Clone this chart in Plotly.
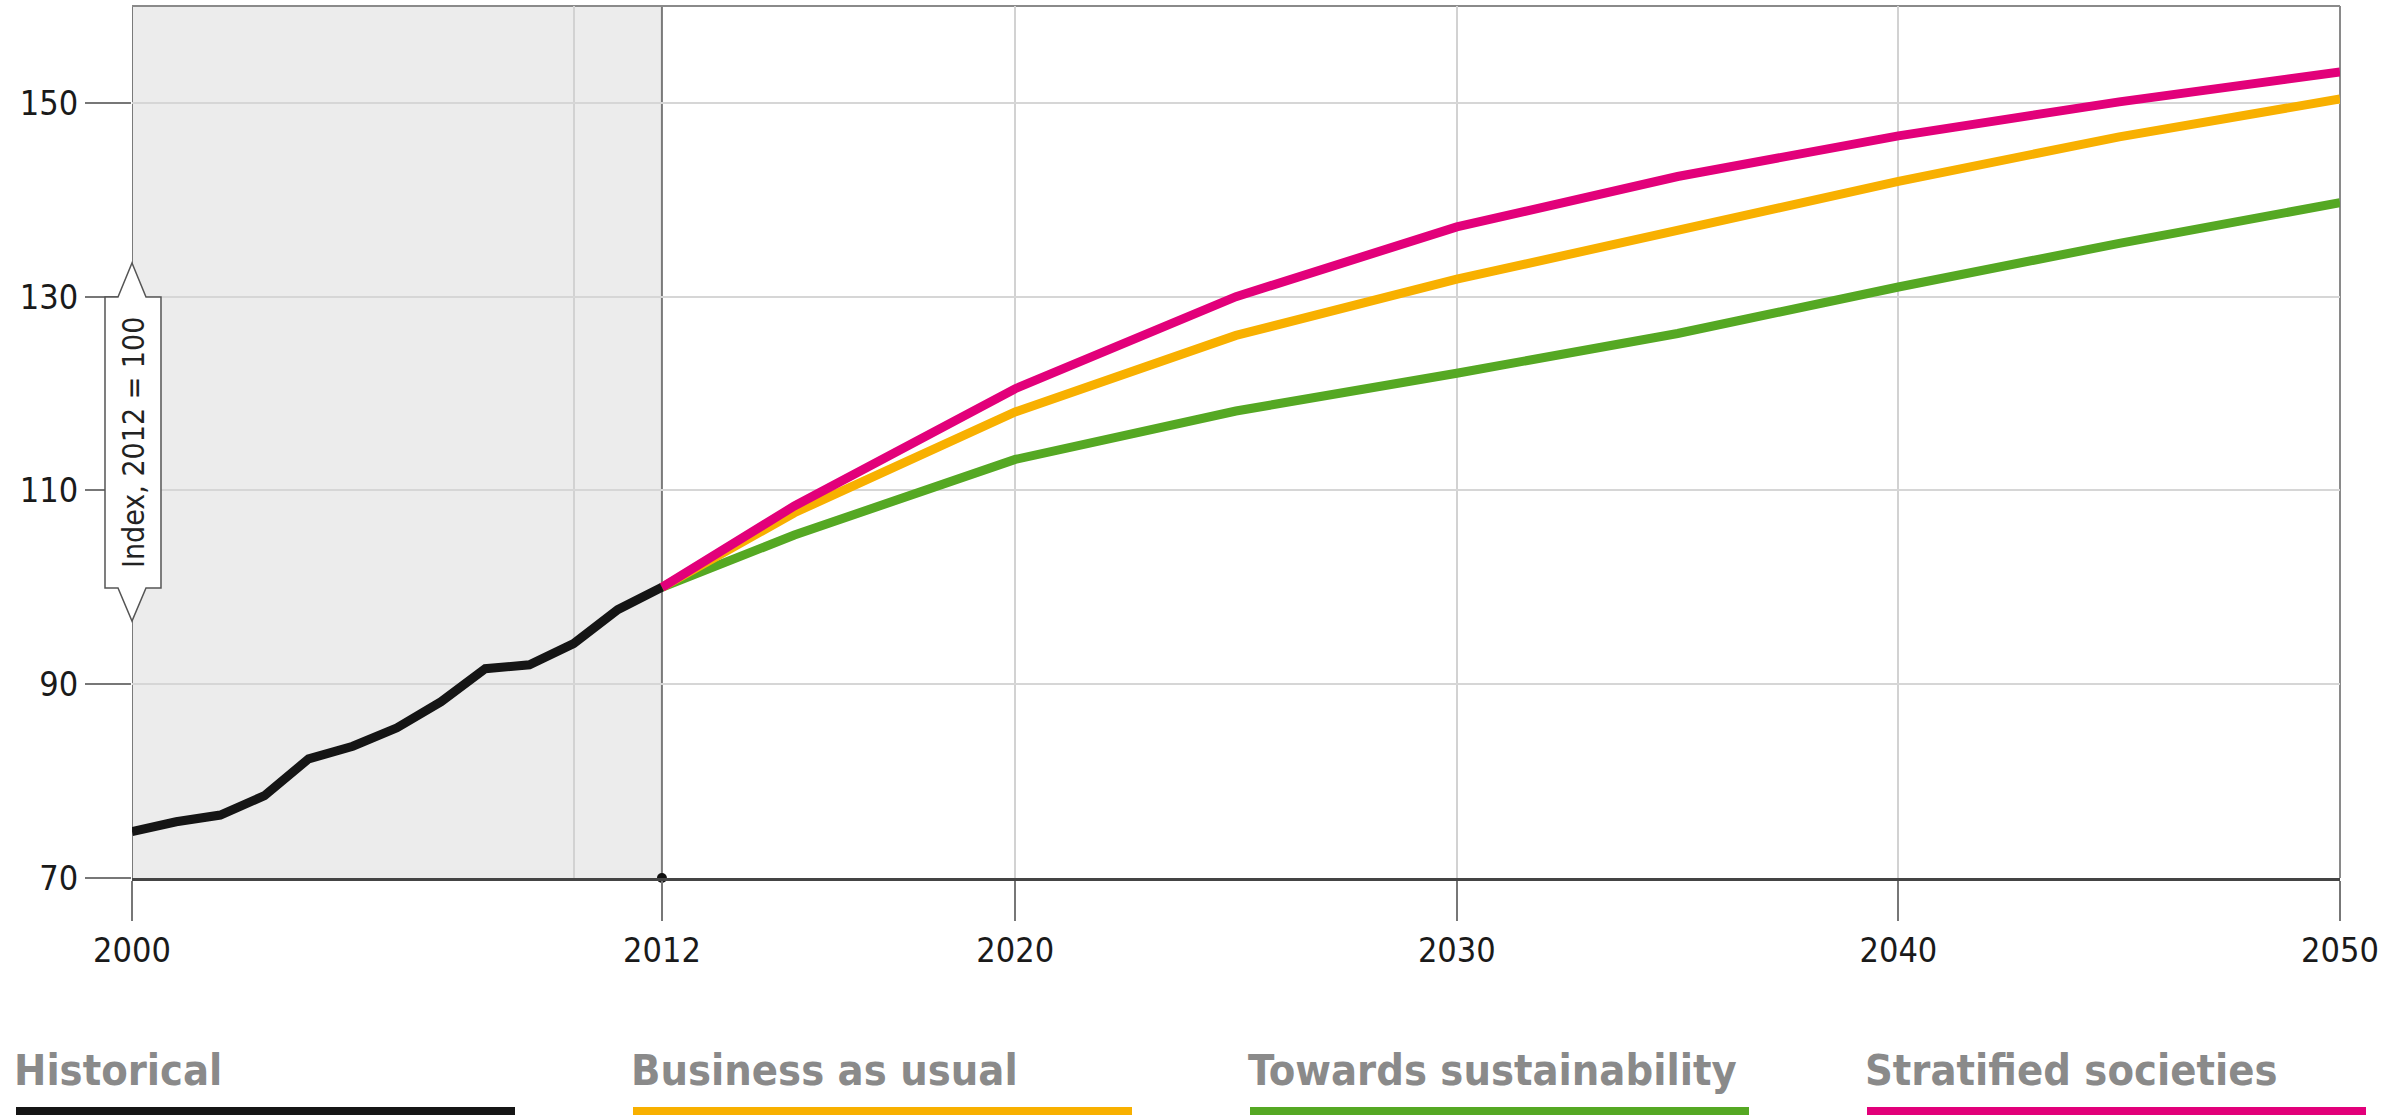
import plotly.graph_objects as go

# ---- data ----
hist_years = [2000, 2001, 2002, 2003, 2004, 2005, 2006, 2007, 2008, 2009, 2010, 2011, 2012]
hist_vals = [74.8, 75.8, 76.5, 78.5, 82.3, 83.6, 85.5, 88.2, 91.6, 92.0, 94.2, 97.7, 100.0]

proj_years = [2012, 2015, 2020, 2025, 2030, 2035, 2040, 2045, 2050]
bau_vals = [100.0, 107.7, 118.1, 126.0, 131.8, 136.9, 141.9, 146.5, 150.4]
sust_vals = [100.0, 105.4, 113.2, 118.2, 122.1, 126.2, 131.0, 135.5, 139.7]
strat_vals = [100.0, 108.4, 120.5, 130.0, 137.2, 142.4, 146.6, 150.1, 153.2]

x_tickvals = [2000, 2012, 2020, 2030, 2040, 2050]
x_gridvals = [2010, 2020, 2030, 2040]
y_tickvals = [70, 90, 110, 130, 150]

legend_names = ["Historical", "Business as usual", "Towards sustainability", "Stratified societies"]
colors = {"Historical": "#151515", "Business as usual": "#f8b000",
          "Towards sustainability": "#55a823", "Stratified societies": "#e2007a"}

FONT = "DejaVu Sans Condensed, Liberation Sans Narrow, sans-serif"

W, H = 2407, 1117
L, R, T, B = 132, 67, 6, 239
PW, PH = W - L - R, H - T - B


def px(x):
    return (x - L) / PW


def py(y):
    return (H - B - y) / PH


fig = go.Figure()

fig.add_trace(go.Scatter(x=proj_years, y=sust_vals, mode="lines",
                         line=dict(color=colors["Towards sustainability"], width=9), showlegend=False))
fig.add_trace(go.Scatter(x=proj_years, y=bau_vals, mode="lines",
                         line=dict(color=colors["Business as usual"], width=9), showlegend=False))
fig.add_trace(go.Scatter(x=proj_years, y=strat_vals, mode="lines",
                         line=dict(color=colors["Stratified societies"], width=9), showlegend=False))
fig.add_trace(go.Scatter(x=hist_years, y=hist_vals, mode="lines",
                         line=dict(color=colors["Historical"], width=9), showlegend=False))
fig.add_trace(go.Scatter(x=[2012], y=[70], mode="markers", marker=dict(color="#111", size=10),
                         cliponaxis=False, showlegend=False))

shapes = []
# shaded historical period
shapes.append(dict(type="rect", xref="x", yref="paper", x0=2000, x1=2012, y0=0, y1=1,
                   fillcolor="#ececec", line=dict(width=0), layer="below"))
# dark verticals
for xv in [2000, 2012]:
    shapes.append(dict(type="line", xref="x", yref="paper", x0=xv, x1=xv, y0=0, y1=1,
                       line=dict(color="#7a7a7a", width=2), layer="between"))
# frame top and right
shapes.append(dict(type="line", xref="paper", yref="paper", x0=0, x1=1, y0=1, y1=1,
                   line=dict(color="#8a8a8a", width=2), layer="between"))
shapes.append(dict(type="line", xref="paper", yref="paper", x0=1, x1=1, y0=0, y1=1,
                   line=dict(color="#8a8a8a", width=2), layer="between"))

# callout box for y-axis label
pts = [(132, 263), (146, 297), (161, 297), (161, 588), (146, 588), (132, 621),
       (118, 588), (105, 588), (105, 297), (118, 297)]
path = "M " + " L ".join(f"{px(a):.5f},{py(b):.5f}" for a, b in pts) + " Z"
shapes.append(dict(type="path", xref="paper", yref="paper", path=path,
                   fillcolor="white", line=dict(color="#555", width=1.5), layer="above"))

annotations = [dict(xref="paper", yref="paper", x=px(134), y=py(443), text="Index, 2012 = 100",
                    textangle=-90, showarrow=False, xanchor="center", yanchor="middle",
                    font=dict(family=FONT, size=30, color="#222"))]

# custom legend
leg_x = [12, 629, 1246, 1863]
for name, x0 in zip(legend_names, leg_x):
    annotations.append(dict(xref="paper", yref="paper", x=px(x0), y=py(1070), text=name,
                            showarrow=False, xanchor="left", yanchor="middle",
                            font=dict(family=FONT, size=43, color="#8a8a8a", weight="bold")))
    shapes.append(dict(type="line", xref="paper", yref="paper", x0=px(x0 + 4), x1=px(x0 + 503),
                       y0=py(1111), y1=py(1111),
                       line=dict(color=colors[name], width=8), layer="above"))

fig.update_layout(
    width=W, height=H,
    margin=dict(l=L, r=R, t=T, b=B, pad=0),
    paper_bgcolor="white", plot_bgcolor="white",
    shapes=shapes, annotations=annotations,
    showlegend=False,
    font=dict(family=FONT, color="#1a1a1a"),
)
fig.update_xaxes(range=[2000, 2050], tickvals=x_tickvals, ticktext=[str(v) for v in x_tickvals],
                 showgrid=False, zeroline=False,
                 showline=True, linecolor="#444", linewidth=3,
                 ticks="outside", ticklen=40, tickwidth=2, tickcolor="#777",
                 tickfont=dict(family=FONT, size=34, color="#1a1a1a"),
                 minor=dict(tickvals=x_gridvals, showgrid=True, gridcolor="#d2d2d2", gridwidth=2, ticks=""))
fig.update_yaxes(range=[70, 160], tickvals=y_tickvals, showgrid=True, gridcolor="#d6d6d6", gridwidth=2,
                 zeroline=False, showline=False,
                 ticks="outside", ticklen=46, tickwidth=2, tickcolor="#777",
                 tickfont=dict(family=FONT, size=34, color="#1a1a1a"))

fig.write_html("out.html")
